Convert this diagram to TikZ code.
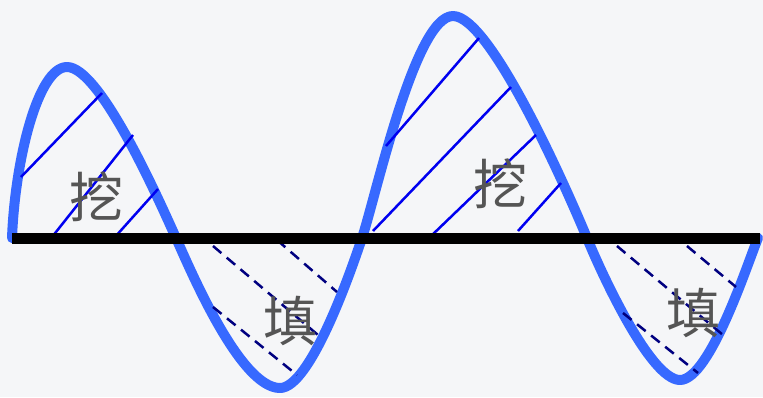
\documentclass[tikz,border=0pt]{standalone}
\usepackage{fontspec}
\newfontfamily\cjk{Noto Sans CJK SC}
\definecolor{bgc}{HTML}{F5F6F8}
\definecolor{wave}{RGB}{55,105,255}
\definecolor{hatchA}{RGB}{0,0,240}
\definecolor{hatchB}{RGB}{0,0,128}
\definecolor{lbl}{HTML}{555555}
\tikzset{
  wavestyle/.style={draw=wave,line width=10pt,line cap=round,line join=round},
  axisline/.style={draw=black,line width=11pt},
  cuthatch/.style={draw=hatchA,line width=2.5pt},
  fillhatch/.style={draw=hatchB,line width=2.5pt,dash pattern=on 11pt off 7pt},
  lbltext/.style={text=lbl,font=\cjk\fontsize{54}{54}\selectfont,inner sep=0pt}
}
\begin{document}
\begin{tikzpicture}[x=1pt,y=-1pt]
\fill[bgc] (0,0) rectangle (763,397);
\useasboundingbox (0,0) rectangle (763,397);
% wave
\coordinate (c0) at (12,238);
\coordinate (p1) at (67,67);
\coordinate (c1) at (176,238);
\coordinate (t1) at (280,388);
\coordinate (c2) at (362,238);
\coordinate (p2) at (453,16);
\coordinate (c3) at (587,238);
\coordinate (t2) at (680,380);
\coordinate (c4) at (758,238);
\draw[wavestyle] (c0) .. controls (15,160) and (38,67) .. (p1)
  .. controls (100,67) and (158,198) .. (c1)
  .. controls (190,269) and (240,388) .. (t1)
  .. controls (310,388) and (350,274) .. (c2)
  .. controls (376,196) and (415,16) .. (p2)
  .. controls (490,16) and (565,185) .. (c3)
  .. controls (600,270) and (650,380) .. (t2)
  .. controls (710,380) and (748,262) .. (c4);
% cut hatches
\draw[cuthatch] (21,177) -- (102,93);
\draw[cuthatch] (52,237) -- (133,135);
\draw[cuthatch] (115,237) -- (158,189);
\draw[cuthatch] (386,146) -- (479,38);
\draw[cuthatch] (373,231) -- (511,87);
\draw[cuthatch] (430,237) -- (536,135);
\draw[cuthatch] (518,231) -- (561,183);
% fill hatches
\draw[fillhatch] (213,246) -- (318,335);
\draw[fillhatch] (277,240) -- (337,292);
\draw[fillhatch] (213,307) -- (297,375);
\draw[fillhatch] (617,246) -- (723,335);
\draw[fillhatch] (687,246) -- (736,287);
\draw[fillhatch] (623,313) -- (698,373);
% axis
\draw[axisline] (12,238) -- (760,238);
% labels
\node[lbltext] (w1) at (96,197) {挖};
\node[lbltext] (w2) at (500,184) {挖};
\node[lbltext] (tt1) at (290,321) {填};
\node[lbltext] (tt2) at (693,313) {填};
\end{tikzpicture}
\end{document}
